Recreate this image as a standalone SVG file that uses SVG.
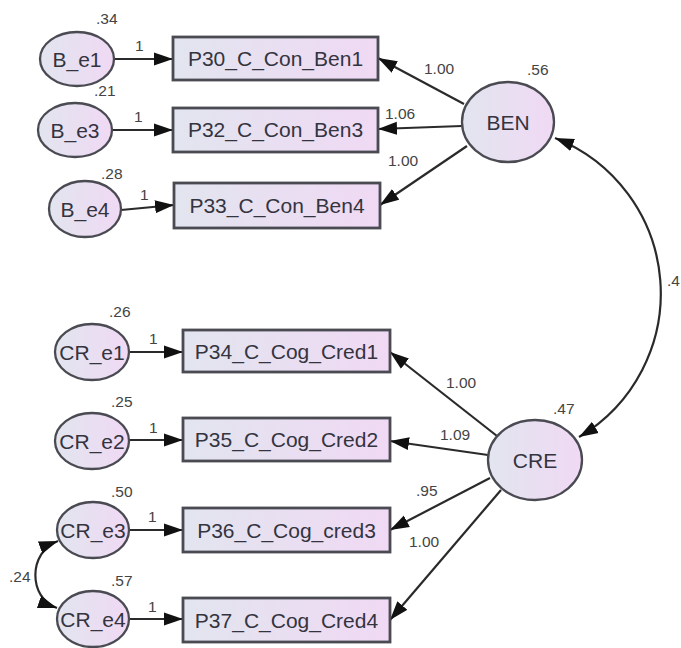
<svg xmlns="http://www.w3.org/2000/svg" width="681" height="648" viewBox="0 0 681 648">
  <defs>
    <linearGradient id="fillGrad" x1="0" y1="0" x2="1" y2="0">
      <stop offset="0" stop-color="#e2e5ef"/>
      <stop offset="1" stop-color="#f0d9f4"/>
    </linearGradient>
    <marker id="arrow" markerUnits="userSpaceOnUse" markerWidth="20" markerHeight="14" refX="19" refY="7" orient="auto-start-reverse">
      <path d="M0,0.5 L19,7 L0,13.5 z" fill="#111"/>
    </marker>
    <style>
      .node ellipse, .node rect { fill: url(#fillGrad); stroke: #4a4a52; }
      .node ellipse { stroke-width: 2.3; }
      .node rect { stroke-width: 2.8; }
      .lbl { font-family: "Liberation Sans", Arial, sans-serif; font-size: 21px; fill: #34343f; text-anchor: middle; }
      .num { font-family: "Liberation Sans", Arial, sans-serif; font-size: 15.5px; fill: #444; }
      .conn path, .conn line { stroke: #2a2a2a; stroke-width: 2.2; fill: none; }
      .conn .one { marker-end: url(#arrow); }
      .conn .two { marker-start: url(#arrow); marker-end: url(#arrow); }
    </style>
  </defs>
  <rect width="681" height="648" fill="#ffffff"/>

  <!-- connectors -->
  <g id="connectors" class="conn">
    <!-- error terms to indicators -->
    <line class="one" x1="114" y1="59" x2="173" y2="59"/>
    <line class="one" x1="112" y1="130" x2="173" y2="130"/>
    <line class="one" x1="121" y1="210" x2="174" y2="205"/>
    <line class="one" x1="129" y1="352" x2="183" y2="352"/>
    <line class="one" x1="129" y1="440" x2="183" y2="440"/>
    <line class="one" x1="130" y1="530" x2="183" y2="530"/>
    <line class="one" x1="130" y1="619" x2="183" y2="619"/>
    <!-- BEN loadings -->
    <line class="one" x1="464" y1="104" x2="378" y2="58"/>
    <line class="one" x1="462" y1="126" x2="378" y2="129"/>
    <line class="one" x1="467" y1="146" x2="380" y2="205"/>
    <!-- CRE loadings -->
    <line class="one" x1="497" y1="436" x2="390" y2="352"/>
    <line class="one" x1="488" y1="455" x2="390" y2="441"/>
    <line class="one" x1="490" y1="478" x2="390" y2="530"/>
    <line class="one" x1="501" y1="490" x2="390" y2="620"/>
    <!-- covariances -->
    <path class="two" d="M555,138 A167,167 0 0 1 579,437"/>
    <path class="two" d="M58,541 C28,552 28,598 57,608"/>
  </g>

  <!-- BEN block -->
  <g id="B_e1" class="node">
    <ellipse cx="77" cy="59" rx="37" ry="27"/>
    <text class="lbl" x="77" y="67">B_e1</text>
  </g>
  <g id="B_e3" class="node">
    <ellipse cx="75" cy="130" rx="37" ry="27"/>
    <text class="lbl" x="75" y="138">B_e3</text>
  </g>
  <g id="B_e4" class="node">
    <ellipse cx="85" cy="209" rx="36" ry="28"/>
    <text class="lbl" x="85" y="217">B_e4</text>
  </g>
  <g id="P30" class="node">
    <rect x="173" y="37" width="205" height="43"/>
    <text class="lbl" x="275.5" y="66">P30_C_Con_Ben1</text>
  </g>
  <g id="P32" class="node">
    <rect x="173" y="108" width="205" height="44"/>
    <text class="lbl" x="275.5" y="137">P32_C_Con_Ben3</text>
  </g>
  <g id="P33" class="node">
    <rect x="174" y="183" width="206" height="45"/>
    <text class="lbl" x="277" y="213">P33_C_Con_Ben4</text>
  </g>
  <g id="BEN" class="node">
    <ellipse cx="508" cy="122" rx="46" ry="40"/>
    <text class="lbl" x="508" y="130">BEN</text>
  </g>

  <!-- CRE block -->
  <g id="CR_e1" class="node">
    <ellipse cx="92" cy="352" rx="37" ry="28"/>
    <text class="lbl" x="92" y="360">CR_e1</text>
  </g>
  <g id="CR_e2" class="node">
    <ellipse cx="92" cy="441" rx="37" ry="28"/>
    <text class="lbl" x="92" y="449">CR_e2</text>
  </g>
  <g id="CR_e3" class="node">
    <ellipse cx="93" cy="530" rx="36" ry="28"/>
    <text class="lbl" x="93" y="538">CR_e3</text>
  </g>
  <g id="CR_e4" class="node">
    <ellipse cx="93" cy="619" rx="36" ry="28"/>
    <text class="lbl" x="93" y="627">CR_e4</text>
  </g>
  <g id="P34" class="node">
    <rect x="183" y="330" width="207" height="42"/>
    <text class="lbl" x="286.5" y="359">P34_C_Cog_Cred1</text>
  </g>
  <g id="P35" class="node">
    <rect x="183" y="418" width="207" height="43"/>
    <text class="lbl" x="286.5" y="447">P35_C_Cog_Cred2</text>
  </g>
  <g id="P36" class="node">
    <rect x="183" y="508" width="207" height="44"/>
    <text class="lbl" x="286.5" y="538">P36_C_Cog_cred3</text>
  </g>
  <g id="P37" class="node">
    <rect x="183" y="598" width="207" height="44"/>
    <text class="lbl" x="286.5" y="628">P37_C_Cog_Cred4</text>
  </g>
  <g id="CRE" class="node">
    <ellipse cx="535" cy="460" rx="47" ry="40"/>
    <text class="lbl" x="535" y="468">CRE</text>
  </g>

  <!-- estimates -->
  <g id="estimates" class="num">
    <text x="96" y="24">.34</text>
    <text x="94" y="96">.21</text>
    <text x="101" y="179">.28</text>
    <text x="135" y="51">1</text>
    <text x="134" y="122">1</text>
    <text x="140" y="200">1</text>
    <text x="527" y="75">.56</text>
    <text x="424" y="74">1.00</text>
    <text x="385" y="119">1.06</text>
    <text x="388" y="166">1.00</text>
    <text x="667" y="286">.4</text>

    <text x="109" y="317">.26</text>
    <text x="111" y="407">.25</text>
    <text x="111" y="497">.50</text>
    <text x="111" y="586">.57</text>
    <text x="149" y="344">1</text>
    <text x="149" y="433">1</text>
    <text x="148" y="522">1</text>
    <text x="148" y="612">1</text>
    <text x="9" y="582">.24</text>
    <text x="553" y="414">.47</text>
    <text x="446" y="388">1.00</text>
    <text x="440" y="440">1.09</text>
    <text x="416" y="496">.95</text>
    <text x="409" y="547">1.00</text>
  </g>
</svg>
